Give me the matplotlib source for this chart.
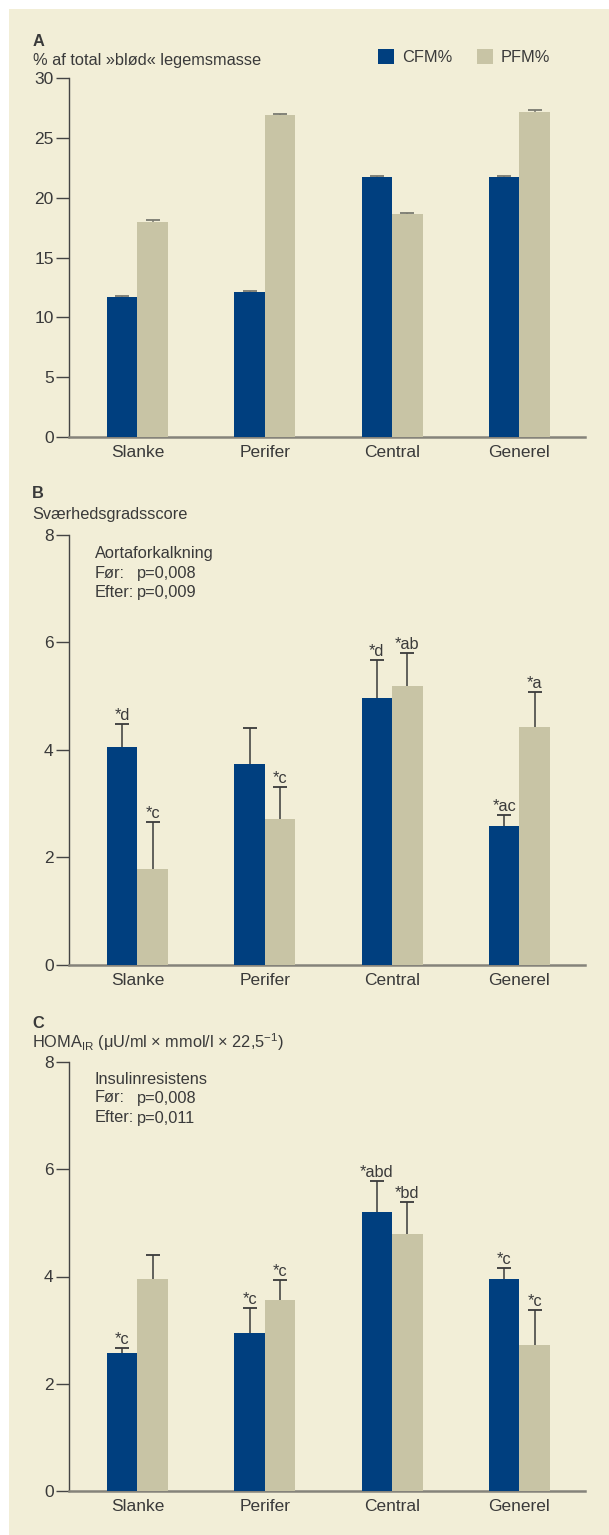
import matplotlib
matplotlib.use("Agg")
import matplotlib.pyplot as plt
import numpy as np

plt.rcParams['font.family'] = ['Liberation Sans', 'DejaVu Sans']
plt.rcParams['mathtext.fontset'] = 'custom'
plt.rcParams['mathtext.rm'] = 'Liberation Sans'
plt.rcParams['mathtext.it'] = 'Liberation Sans:italic'
plt.rcParams['mathtext.bf'] = 'Liberation Sans:bold'

# ---------------- data ----------------
categories = ["Slanke", "Perifer", "Central", "Generel"]
series_names = ["CFM%", "PFM%"]

# Panel A: % of total soft body mass
a_cfm = [11.7, 12.1, 21.7, 21.7]
a_pfm = [18.0, 26.9, 18.6, 27.2]
a_cfm_err = [0.12, 0.12, 0.12, 0.12]
a_pfm_err = [0.12, 0.12, 0.12, 0.12]

# Panel B: severity score (aortic calcification)
b_cfm = [4.05, 3.74, 4.96, 2.59]
b_pfm = [1.79, 2.72, 5.19, 4.43]
b_cfm_err = [0.43, 0.67, 0.71, 0.20]
b_pfm_err = [0.87, 0.59, 0.61, 0.65]
b_cfm_lab = ["*d", "", "*d", "*ac"]
b_pfm_lab = ["*c", "*c", "*ab", "*a"]

# Panel C: HOMA-IR (insulin resistance)
c_cfm = [2.57, 2.95, 5.21, 3.96]
c_pfm = [3.96, 3.56, 4.79, 2.72]
c_cfm_err = [0.10, 0.46, 0.57, 0.20]
c_pfm_err = [0.44, 0.38, 0.60, 0.66]
c_cfm_lab = ["*c", "*c", "*abd", "*c"]
c_pfm_lab = ["", "*c", "*bd", "*c"]

a_ticks = [0, 5, 10, 15, 20, 25, 30]
bc_ticks = [0, 2, 4, 6, 8]

# ---------------- style ----------------
BG = "#F2EED7"
BLUE = "#003F7F"
TAN = "#C8C4A5"
TXT = "#3a3a3a"
FS = 11.8
FS_TICK = 12.5

W, H = 609, 1535
fig = plt.figure(figsize=(W / 100, H / 100), dpi=100)
fig.patch.set_facecolor("white")
# beige panel
fig.patches.append(plt.Rectangle((9 / W, 0), 1 - 9 / W, 1 - 9 / H,
                                 transform=fig.transFigure, facecolor=BG,
                                 edgecolor="none", zorder=-10))


def px(x, y):
    return x / W, 1 - y / H


def make_axes(top, bottom):
    left, right = 69, 585
    ax = fig.add_axes([left / W, 1 - bottom / H, (right - left) / W, (bottom - top) / H])
    ax.set_zorder(1)
    return ax


x = np.arange(len(categories))
bw = 0.24


def draw(ax, cfm, pfm, cfm_err, pfm_err, ymax, ticks, cfm_lab=None, pfm_lab=None, errcol="#3a3a3a"):
    ax.set_facecolor("none")
    ax.patch.set_alpha(0)
    b1 = ax.bar(x - bw / 2, cfm, bw, color=BLUE, zorder=3, label=series_names[0])
    b2 = ax.bar(x + bw / 2, pfm, bw, color=TAN, zorder=3, label=series_names[1])
    for xs, vals, errs in ((x - bw / 2, cfm, cfm_err), (x + bw / 2, pfm, pfm_err)):
        tops = np.asarray(vals) + np.asarray(errs)
        ax.vlines(xs, vals, tops, color=errcol, lw=1.1, zorder=2)
        ax.plot(xs, tops, ls="none", marker="_", ms=10.5, mew=1.3, color=errcol, zorder=2)
    if cfm_lab is not None:
        for xs, vals, errs, labs in ((x - bw / 2, cfm, cfm_err, cfm_lab),
                                     (x + bw / 2, pfm, pfm_err, pfm_lab)):
            for xi, v, e, l in zip(xs, vals, errs, labs):
                if l:
                    ax.annotate(l, (xi, v + e), xytext=(0, 3), textcoords="offset points",
                                ha="center", va="baseline", fontsize=FS, color=TXT)
    ax.set_xlim(-0.538, 3.515)
    ax.set_ylim(0, ymax)
    ax.set_yticks(ticks)
    ax.set_xticks(x)
    ax.set_xticklabels(categories)
    for s in ("top", "right"):
        ax.spines[s].set_visible(False)
    ax.spines["left"].set_color("#444444")
    ax.spines["left"].set_linewidth(1.0)
    ax.spines["bottom"].set_color("#85837a")
    ax.spines["bottom"].set_linewidth(1.8)
    ax.tick_params(axis="y", length=9.5, width=1.0, color="#444444", labelsize=FS_TICK,
                   labelcolor=TXT, pad=1.5)
    ax.tick_params(axis="x", length=0, labelsize=FS_TICK, labelcolor=TXT, pad=5.5)
    return b1, b2


# Panel A
axA = make_axes(78, 437)
bA1, bA2 = draw(axA, a_cfm, a_pfm, a_cfm_err, a_pfm_err, 30, a_ticks, errcol="#7a7a70")
fig.text(*px(33, 42), "A", fontsize=FS, fontweight="bold", color=TXT, va="center")
fig.text(*px(33, 61), "% af total »blød« legemsmasse", fontsize=FS, color=TXT, va="center")
fig.legend(handles=[bA1, bA2], labels=series_names, loc="center left",
           bbox_to_anchor=px(378, 57), bbox_transform=fig.transFigure, ncol=2,
           frameon=False, fontsize=FS, handlelength=1.0, handleheight=1.0,
           handletextpad=0.45, columnspacing=1.5, borderpad=0, borderaxespad=0,
           labelcolor=TXT)

# Panel B
axB = make_axes(535, 965)
draw(axB, b_cfm, b_pfm, b_cfm_err, b_pfm_err, 8, bc_ticks, b_cfm_lab, b_pfm_lab)
fig.text(*px(32, 494), "B", fontsize=FS, fontweight="bold", color=TXT, va="center")
fig.text(*px(32, 514), "Sværhedsgradsscore", fontsize=FS, color=TXT, va="center")
fig.text(*px(95, 553), "Aortaforkalkning", fontsize=FS, color=TXT, va="center")
fig.text(*px(95, 573), "Før:", fontsize=FS, color=TXT, va="center")
fig.text(*px(137, 573), "p=0,008", fontsize=FS, color=TXT, va="center")
fig.text(*px(95, 592), "Efter:", fontsize=FS, color=TXT, va="center")
fig.text(*px(137, 592), "p=0,009", fontsize=FS, color=TXT, va="center")

# Panel C
axC = make_axes(1062, 1491)
draw(axC, c_cfm, c_pfm, c_cfm_err, c_pfm_err, 8, bc_ticks, c_cfm_lab, c_pfm_lab)
fig.text(*px(32, 1023), "C", fontsize=FS, fontweight="bold", color=TXT, va="center")
fig.text(*px(32, 1042), r"HOMA$_{\mathrm{IR}}$ (μU/ml × mmol/l × 22,5$^{\mathrm{-1}}$)",
         fontsize=FS, color=TXT, va="center")
fig.text(*px(95, 1079), "Insulinresistens", fontsize=FS, color=TXT, va="center")
fig.text(*px(95, 1098), "Før:", fontsize=FS, color=TXT, va="center")
fig.text(*px(137, 1098), "p=0,008", fontsize=FS, color=TXT, va="center")
fig.text(*px(95, 1118), "Efter:", fontsize=FS, color=TXT, va="center")
fig.text(*px(137, 1118), "p=0,011", fontsize=FS, color=TXT, va="center")

fig.savefig("out.png", dpi=100, facecolor=fig.get_facecolor())
